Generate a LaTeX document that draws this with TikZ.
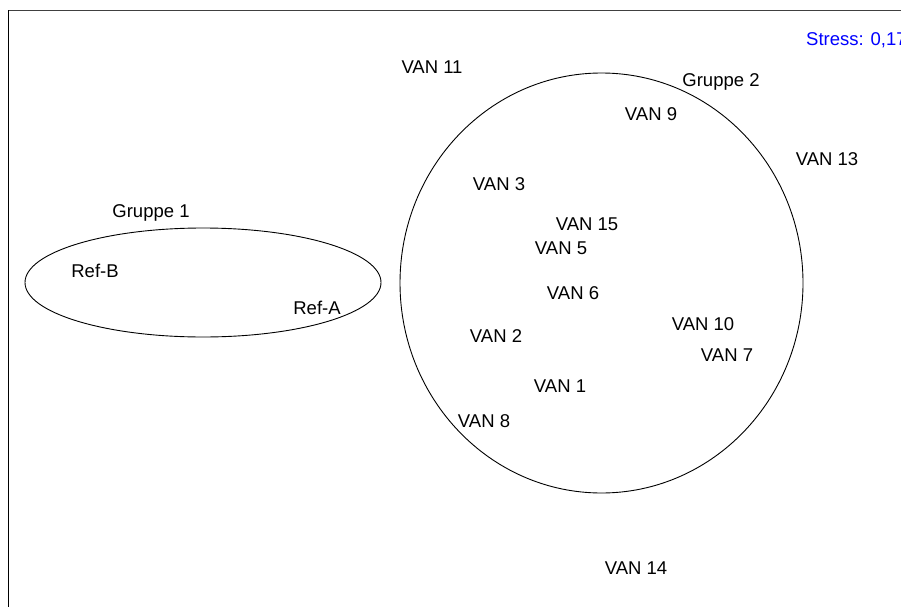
\documentclass[tikz,border=0pt]{standalone}
\usepackage{fontspec}
\setmainfont{Liberation Sans}
\usetikzlibrary{shapes.geometric}
\begin{document}
\begin{tikzpicture}[x=1pt,y=-1pt,
  lbl/.style={font=\fontsize{18.5}{21}\selectfont, inner sep=0pt, anchor=center},
  grp/.style={draw=black, line width=0.9pt}]
\useasboundingbox (0,0) rectangle (901,607);
\clip (0,0) rectangle (901,607);
% frame
\draw[line width=1pt, black!75] (8,11) -- (901,11);
\draw[line width=1.6pt, black] (8.5,10.5) -- (8.5,607);
% groups
\draw[grp] (203,282.5) ellipse [x radius=178, y radius=54.5];
\draw[grp] (601.5,283) ellipse [x radius=201.5, y radius=210];
% labels
\node[lbl, anchor=west, text=blue] (stress) at (806,40) {Stress: 0,17};
\node[lbl] (g1) at (151,213) {Gruppe 1};
\node[lbl] (g2) at (721,82) {Gruppe 2};
\node[lbl] (refb) at (95,271) {Ref-B};
\node[lbl] (refa) at (317,308) {Ref-A};
\node[lbl] (v11) at (432,67) {VAN 11};
\node[lbl] (v9) at (651,114) {VAN 9};
\node[lbl] (v13) at (827,159) {VAN 13};
\node[lbl] (v3) at (499,184) {VAN 3};
\node[lbl] (v15) at (587,224) {VAN 15};
\node[lbl] (v5) at (561,248) {VAN 5};
\node[lbl] (v6) at (573,293) {VAN 6};
\node[lbl] (v10) at (703,324) {VAN 10};
\node[lbl] (v7) at (727,355) {VAN 7};
\node[lbl] (v2) at (496,336) {VAN 2};
\node[lbl] (v1) at (560,386) {VAN 1};
\node[lbl] (v8) at (484,421) {VAN 8};
\node[lbl] (v14) at (636,568) {VAN 14};
\end{tikzpicture}
\end{document}
